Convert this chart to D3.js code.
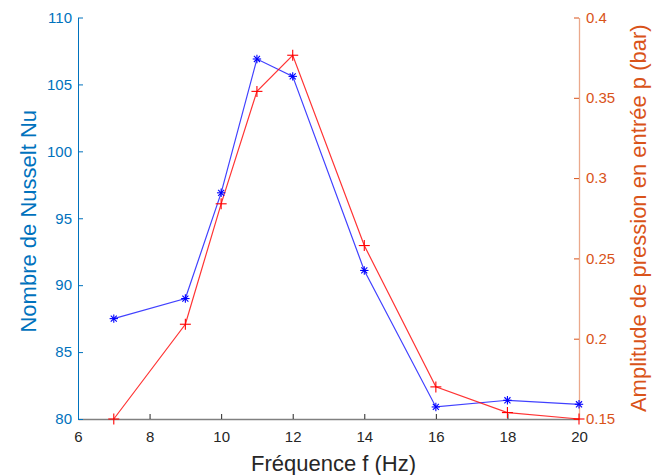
<!DOCTYPE html>
<html><head><meta charset="utf-8">
<script src="https://cdn.jsdelivr.net/npm/d3@7"></script>
<style>body{margin:0;background:#fff}svg{display:block}text{font-family:"Liberation Sans",Arial,sans-serif}</style>
</head><body>
<svg id="c" width="662" height="475"></svg>
<script>
const freq = [7, 9, 10, 11, 12, 14, 16, 18, 20];
const nusselt = [87.5, 89.0, 96.9, 106.9, 105.6, 91.1, 80.9, 81.4, 81.1];
const pressure = [0.150, 0.209, 0.284, 0.354, 0.3765, 0.258, 0.170, 0.154, 0.150];
const xTicks = [6, 8, 10, 12, 14, 16, 18, 20];
const yLeftTicks = [80, 85, 90, 95, 100, 105, 110];
const yRightTicks = [0.15, 0.2, 0.25, 0.3, 0.35, 0.4];
const xLabel = "Fréquence f (Hz)";
const yLeftLabel = "Nombre de Nusselt Nu";
const yRightLabel = "Amplitude de pression en entrée p (bar)";

const svg = d3.select("#c");
const L = 78, R = 579, T = 17.5, B = 419;
const x = d3.scaleLinear().domain([6, 20]).range([L, R]);
const yL = d3.scaleLinear().domain([80, 110]).range([B, T]);
const yR = d3.scaleLinear().domain([0.15, 0.4]).range([B, T]);
const blueAx = "#0072BD", orangeAx = "#D95319", gray = "#262626";

// x axis
const gx = svg.append("g").attr("transform", `translate(0,${B})`)
  .call(d3.axisBottom(x).tickValues(xTicks).tickSizeInner(-5).tickSizeOuter(0));
gx.select(".domain").attr("stroke", "#808080").attr("stroke-width", 1.3);
gx.selectAll(".tick line").attr("stroke", gray);
gx.selectAll(".tick text").attr("fill", gray).attr("font-size", 15).attr("dy", null).attr("y", 23);

// left axis
const gl = svg.append("g").attr("transform", `translate(${L},0)`)
  .call(d3.axisLeft(yL).tickValues(yLeftTicks).tickSizeInner(-5).tickSizeOuter(0));
gl.select(".domain").attr("stroke", blueAx).attr("stroke-width", 1);
gl.selectAll(".tick line").attr("stroke", blueAx);
gl.selectAll(".tick text").attr("fill", blueAx).attr("font-size", 15).attr("x", -6);

// right axis
const gr = svg.append("g").attr("transform", `translate(${R},0)`)
  .call(d3.axisRight(yR).tickValues(yRightTicks).tickFormat(d => String(+d.toFixed(2))).tickSizeInner(-5).tickSizeOuter(0));
gr.select(".domain").attr("stroke", "#EBA98C").attr("stroke-width", 1.3);
gr.selectAll(".tick line").attr("stroke", orangeAx);
gr.selectAll(".tick text").attr("fill", orangeAx).attr("font-size", 15).attr("x", 7);

// labels
svg.append("text").attr("x", (L + R) / 2 + 5).attr("y", 471).attr("text-anchor", "middle")
  .attr("font-size", 22).attr("fill", gray).text(xLabel);
svg.append("text").attr("transform", `translate(36,${(T + B) / 2 + 3}) rotate(-90)`).attr("text-anchor", "middle")
  .attr("font-size", 22).attr("fill", blueAx).text(yLeftLabel);
svg.append("text").attr("transform", `translate(646,${(T + B) / 2}) rotate(-90)`).attr("text-anchor", "middle")
  .attr("font-size", 22).attr("fill", orangeAx).text(yRightLabel);

// series
const lineL = d3.line().x((d, i) => x(freq[i])).y(d => yL(d));
const lineR = d3.line().x((d, i) => x(freq[i])).y(d => yR(d));
svg.append("path").attr("d", lineL(nusselt)).attr("fill", "none").attr("stroke", "#0000FF").attr("stroke-opacity", 0.75).attr("stroke-width", 1.2);
svg.append("path").attr("d", lineR(pressure)).attr("fill", "none").attr("stroke", "#FF0000").attr("stroke-opacity", 0.8).attr("stroke-width", 1.2);

// star markers
const s = 4.2;
nusselt.forEach((v, i) => {
  const cx = x(freq[i]), cy = yL(v);
  const g = svg.append("g").attr("stroke", "#0000FF").attr("stroke-width", 1.1);
  g.append("line").attr("x1", cx - s).attr("x2", cx + s).attr("y1", cy).attr("y2", cy);
  g.append("line").attr("x1", cx).attr("x2", cx).attr("y1", cy - s).attr("y2", cy + s);
  const d = s * 0.72;
  g.append("line").attr("x1", cx - d).attr("x2", cx + d).attr("y1", cy - d).attr("y2", cy + d);
  g.append("line").attr("x1", cx - d).attr("x2", cx + d).attr("y1", cy + d).attr("y2", cy - d);
});
// plus markers
const p = 5.5;
pressure.forEach((v, i) => {
  const cx = x(freq[i]), cy = yR(v);
  const g = svg.append("g").attr("stroke", "#FF0000").attr("stroke-width", 1.1);
  g.append("line").attr("x1", cx - p).attr("x2", cx + p).attr("y1", cy).attr("y2", cy);
  g.append("line").attr("x1", cx).attr("x2", cx).attr("y1", cy - p).attr("y2", cy + p);
});
</script>
</body></html>
